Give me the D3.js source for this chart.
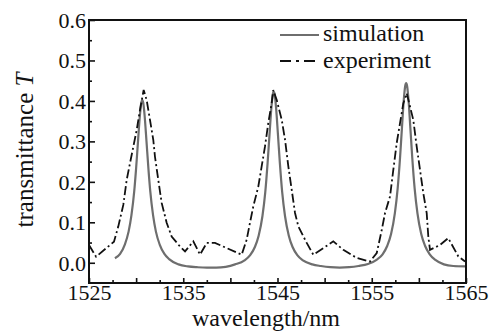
<!DOCTYPE html>
<html>
<head>
<meta charset="utf-8">
<script src="https://cdn.jsdelivr.net/npm/d3@7"></script>
<style>
  body { margin: 0; background: #fff; }
</style>
</head>
<body>
<div id="chart"></div>
<script>
// simulated transmittance
const simWavelength = [1527.75, 1528.3, 1528.8, 1529.2, 1529.5, 1529.8, 1530.0, 1530.2, 1530.4, 1530.55, 1530.65, 1530.75, 1530.9, 1531.1, 1531.3, 1531.5, 1531.8, 1532.1, 1532.5, 1533.0, 1533.5, 1534.5, 1535.5, 1536.5, 1537.5, 1538.5, 1539.5, 1540.5, 1541.5, 1542.1, 1542.6, 1543.0, 1543.4, 1543.7, 1543.95, 1544.15, 1544.35, 1544.5, 1544.6, 1544.7, 1544.85, 1545.05, 1545.25, 1545.5, 1545.8, 1546.2, 1546.6, 1547.1, 1547.7, 1548.7, 1549.6, 1550.6, 1551.6, 1552.6, 1553.6, 1554.6, 1555.55, 1556.15, 1556.65, 1557.05, 1557.45, 1557.75, 1558.0, 1558.2, 1558.4, 1558.55, 1558.65, 1558.75, 1558.9, 1559.1, 1559.3, 1559.55, 1559.85, 1560.25, 1560.65, 1561.15, 1561.75, 1562.65, 1563.65, 1565];
const simT = [0.011, 0.022, 0.045, 0.077, 0.117, 0.177, 0.234, 0.300, 0.364, 0.396, 0.402, 0.396, 0.364, 0.300, 0.234, 0.177, 0.117, 0.077, 0.045, 0.022, 0.009, -0.004, -0.009, -0.011, -0.012, -0.012, -0.010, -0.004, 0.006, 0.019, 0.039, 0.067, 0.115, 0.174, 0.247, 0.316, 0.383, 0.416, 0.423, 0.416, 0.383, 0.316, 0.247, 0.174, 0.115, 0.067, 0.039, 0.019, 0.006, -0.004, -0.008, -0.011, -0.012, -0.011, -0.008, -0.003, 0.008, 0.021, 0.042, 0.071, 0.122, 0.184, 0.259, 0.332, 0.403, 0.437, 0.444, 0.437, 0.403, 0.332, 0.259, 0.184, 0.122, 0.071, 0.042, 0.021, 0.007, -0.004, -0.008, -0.009];

// measured transmittance
const expWavelength = [1525.0, 1525.75, 1527.65, 1528.11, 1528.64, 1529.0, 1529.53, 1530.06, 1530.41, 1530.8, 1531.12, 1531.47, 1531.82, 1532.0, 1532.35, 1532.71, 1533.24, 1533.77, 1534.66, 1535.19, 1536.07, 1536.78, 1537.49, 1538.37, 1541.2, 1541.73, 1542.08, 1542.43, 1542.96, 1543.32, 1543.67, 1544.02, 1544.38, 1544.55, 1544.92, 1545.45, 1545.8, 1546.15, 1546.51, 1546.86, 1547.21, 1548.1, 1548.8, 1549.86, 1550.92, 1551.98, 1553.4, 1554.81, 1555.53, 1556.06, 1556.41, 1556.94, 1557.29, 1557.65, 1558.0, 1558.35, 1558.71, 1559.06, 1559.41, 1559.77, 1560.12, 1560.47, 1560.83, 1561.0, 1561.18, 1562.24, 1563.12, 1564.18, 1564.9];
const expT = [0.044, 0.015, 0.052, 0.090, 0.143, 0.205, 0.267, 0.328, 0.378, 0.427, 0.402, 0.353, 0.304, 0.262, 0.205, 0.148, 0.099, 0.065, 0.040, 0.028, 0.053, 0.020, 0.049, 0.049, 0.020, 0.057, 0.099, 0.139, 0.188, 0.238, 0.287, 0.345, 0.394, 0.427, 0.402, 0.353, 0.304, 0.238, 0.180, 0.123, 0.090, 0.049, 0.020, 0.036, 0.053, 0.032, 0.012, 0.003, 0.024, 0.081, 0.123, 0.164, 0.230, 0.296, 0.345, 0.394, 0.419, 0.386, 0.353, 0.287, 0.230, 0.172, 0.123, 0.065, 0.032, 0.044, 0.061, 0.016, 0.003];

const xTickLabels = [1525, 1535, 1545, 1555, 1565];
const yTickLabels = [0.0, 0.1, 0.2, 0.3, 0.4, 0.5, 0.6];
const seriesNames = ["simulation", "experiment"];

const FONT = "'Liberation Serif', 'Times New Roman', Times, serif";

let width = 493,
  height = 332;
let plotLeft = 89,
  plotRight = 466,
  plotTop = 20,
  plotBottom = 283;

let svg = d3
  .select("#chart")
  .append("svg")
  .attr("width", width)
  .attr("height", height)
  .style("font-family", FONT);

let x = d3.scaleLinear().domain([1525, 1565]).range([plotLeft, plotRight]);
let y = d3.scaleLinear().domain([-0.05, 0.6]).range([plotBottom, plotTop]);

// clip the curves to the frame
svg.append("clipPath").attr("id", "plot")
  .append("rect")
  .attr("x", plotLeft).attr("y", plotTop)
  .attr("width", plotRight - plotLeft).attr("height", plotBottom - plotTop);

let sim = simWavelength.map((w, i) => [w, simT[i]]);
let exp = expWavelength.map((w, i) => [w, expT[i]]);

let simLine = d3.line().x(d => x(d[0])).y(d => y(d[1])).curve(d3.curveMonotoneX);
let expLine = d3.line().x(d => x(d[0])).y(d => y(d[1]));

let g = svg.append("g").attr("clip-path", "url(#plot)");
g.append("path")
  .attr("d", simLine(sim))
  .attr("fill", "none")
  .attr("stroke", "#6e6e6e")
  .attr("stroke-width", 2.2);
g.append("path")
  .attr("d", expLine(exp))
  .attr("fill", "none")
  .attr("stroke", "#111")
  .attr("stroke-width", 1.8)
  .attr("stroke-dasharray", "9,3,2,3");

// axes: ticks point inward
let xAxis = d3.axisBottom(x)
  .tickValues(d3.range(1525, 1565.1, 5))
  .tickSize(-5)
  .tickFormat(d => (xTickLabels.includes(d) ? d : ""));
let xMinor = d3.axisBottom(x)
  .tickValues(d3.range(1527.5, 1565, 5))
  .tickSize(-3)
  .tickFormat("");
let yAxis = d3.axisLeft(y)
  .tickValues(yTickLabels)
  .tickSize(-6)
  .tickFormat(d3.format(".1f"));
let yMinor = d3.axisLeft(y)
  .tickValues(d3.range(0.05, 0.6, 0.1))
  .tickSize(-3)
  .tickFormat("");

[xAxis, xMinor].forEach(a => {
  let ax = svg.append("g").attr("transform", `translate(0,${plotBottom})`).call(a);
  ax.attr("font-family", FONT);
  ax.select(".domain").remove();
  ax.selectAll("line").attr("stroke", "#111").attr("stroke-width", 1.6);
  ax.selectAll("text")
    .attr("font-size", "22px")
    .attr("fill", "#111")
    .attr("dy", null)
    .attr("y", 17);
});
[yAxis, yMinor].forEach(a => {
  let ax = svg.append("g").attr("transform", `translate(${plotLeft},0)`).call(a);
  ax.attr("font-family", FONT);
  ax.select(".domain").remove();
  ax.selectAll("line").attr("stroke", "#111").attr("stroke-width", 1.6);
  ax.selectAll("text")
    .attr("font-size", "22px")
    .attr("fill", "#111")
    .attr("x", -3)
    .attr("dy", "0.33em");
});

svg.append("rect")
  .attr("x", plotLeft).attr("y", plotTop)
  .attr("width", plotRight - plotLeft).attr("height", plotBottom - plotTop)
  .attr("fill", "none")
  .attr("stroke", "#111")
  .attr("stroke-width", 2);

// legend
let legend = svg.append("g");
legend.append("line")
  .attr("x1", 280).attr("x2", 319).attr("y1", 35).attr("y2", 35)
  .attr("stroke", "#6e6e6e").attr("stroke-width", 2.2);
legend.append("line")
  .attr("x1", 280).attr("x2", 319).attr("y1", 61).attr("y2", 61)
  .attr("stroke", "#111").attr("stroke-width", 1.8)
  .attr("stroke-dasharray", "11,5,3,5");
legend.selectAll("text.name")
  .data(seriesNames)
  .join("text")
  .attr("class", "name")
  .attr("x", 323)
  .attr("y", (d, i) => 41 + i * 27)
  .attr("font-size", "24px")
  .attr("fill", "#111")
  .text(d => d);

// axis titles
svg.append("text")
  .attr("x", 266)
  .attr("y", 326)
  .attr("text-anchor", "middle")
  .attr("font-size", "24px")
  .attr("fill", "#111")
  .text("wavelength/nm");

let yTitle = svg.append("text")
  .attr("transform", "translate(33,150) rotate(-90)")
  .attr("text-anchor", "middle")
  .attr("font-size", "25px")
  .attr("fill", "#111");
yTitle.append("tspan").text("transmittance ");
yTitle.append("tspan").attr("font-style", "italic").text("T");
</script>
</body>
</html>
